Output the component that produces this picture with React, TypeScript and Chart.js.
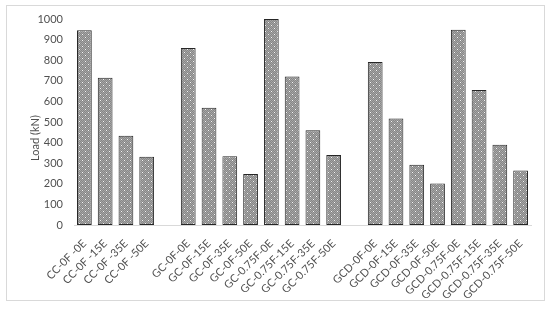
import { useEffect, useRef } from "react";
import { Chart, registerables } from "chart.js";

Chart.register(...registerables);

const categories = [
  "CC-0F -0E", "CC-0F -15E", "CC-0F -35E", "CC-0F -50E",
  "",
  "GC-0F-0E", "GC-0F-15E", "GC-0F-35E", "GC-0F-50E",
  "GC-0.75F-0E", "GC-0.75F-15E", "GC-0.75F-35E", "GC-0.75F-50E",
  " ",
  "GCD-0F-0E", "GCD-0F-15E", "GCD-0F-35E", "GCD-0F-50E",
  "GCD-0.75F-0E", "GCD-0.75F-15E", "GCD-0.75F-35E", "GCD-0.75F-50E",
];

const loads: (number | null)[] = [
  945, 715, 433, 331,
  null,
  859, 569, 334, 248,
  1000, 721, 460, 340,
  null,
  791, 517, 292, 201,
  948, 655, 389, 264,
];

const yMin = 0;
const yMax = 1000;
const yStep = 100;
const yTitle = "Load (kN)";

const FONT = "Lato, 'Liberation Sans', sans-serif";
const TEXT = "#505050";

export default function App() {
  const ref = useRef<HTMLCanvasElement | null>(null);

  useEffect(() => {
    const canvas = ref.current!;
    const ctx = canvas.getContext("2d")!;
    const tile = document.createElement("canvas");
    tile.width = 6;
    tile.height = 6;
    const g = tile.getContext("2d")!;
    g.fillStyle = "#878787";
    g.fillRect(0, 0, 6, 6);
    g.fillStyle = "#a5a5a5";
    for (let y = 0; y < 6; y++)
      for (let x = 0; x < 6; x++) if ((x + y) % 2 === 0) g.fillRect(x, y, 1, 1);
    g.fillStyle = "#f4f4f4";
    g.fillRect(1, 1, 1, 1);
    g.fillRect(4, 4, 1, 1);
    const pattern = ctx.createPattern(tile, "repeat")!;

    const titlePlugin = {
      id: "ytitle",
      afterDraw(chart: any) {
        const c = chart.ctx;
        c.save();
        c.translate(35, 138);
        c.rotate(-Math.PI / 2);
        c.font = `11px ${FONT}`;
        c.fillStyle = TEXT;
        c.textAlign = "center";
        c.textBaseline = "middle";
        c.fillText(yTitle, 0, 0);
        c.restore();
      },
    };

    const chart = new Chart(canvas, {
      type: "bar",
      data: {
        labels: categories,
        datasets: [
          {
            data: loads,
            backgroundColor: pattern,
            borderColor: "#262626",
            borderWidth: 1,
            borderSkipped: false,
            categoryPercentage: 1,
            barPercentage: 0.71,
          },
        ],
      },
      options: {
        responsive: false,
        animation: false,
        layout: { padding: { left: 0, top: 19, right: 19, bottom: 0 } },
        plugins: { legend: { display: false }, tooltip: { enabled: false } },
        scales: {
          x: {
            grid: { display: false, drawTicks: false },
            border: { display: true, color: "#d9d9d9", width: 1 },
            ticks: {
              autoSkip: false,
              maxRotation: 45,
              minRotation: 45,
              padding: 12,
              color: TEXT,
              font: { family: FONT, size: 11 },
            },
            afterFit: (s: any) => {
              s.height = 84;
            },
          },
          y: {
            min: yMin,
            max: yMax,
            grid: { display: false, drawTicks: false },
            border: { display: false },
            ticks: {
              stepSize: yStep,
              padding: 11,
              color: TEXT,
              font: { family: FONT, size: 11 },
              callback: (v: any) => String(v),
            },
            afterFit: (s: any) => {
              s.width = 74;
            },
          },
        },
      },
      plugins: [titlePlugin],
    });
    return () => chart.destroy();
  }, []);

  return (
    <div style={{ position: "fixed", left: 0, top: 0, width: 550, height: 309, background: "#fff" }}>
      <div
        style={{
          position: "absolute",
          left: 6,
          top: 5,
          width: 537,
          height: 294,
          border: "1px solid #d9d9d9",
        }}
      />
      <canvas ref={ref} width={550} height={309} style={{ position: "absolute", left: 0, top: 0 }} />
    </div>
  );
}
